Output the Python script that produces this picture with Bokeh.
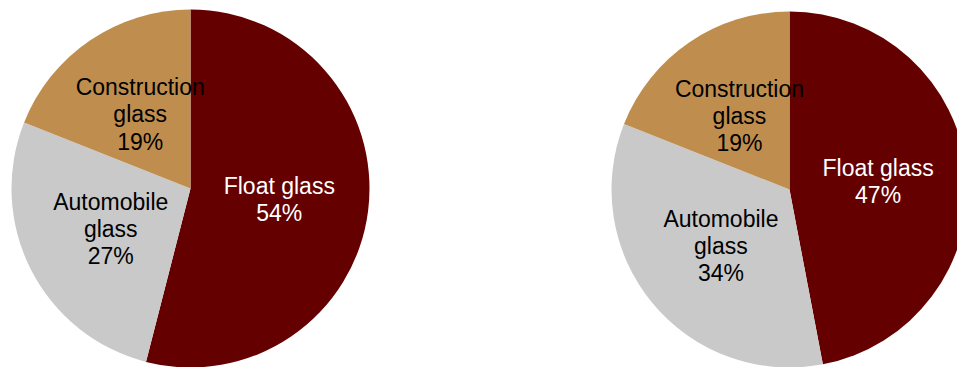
import math
from bokeh.plotting import figure
from bokeh.models import Range1d, ColumnDataSource
from bokeh.core.properties import value
from bokeh.embed import file_html
from bokeh.resources import INLINE

categories = ["Float glass", "Automobile\nglass", "Construction\nglass"]
shares_left = [54, 27, 19]
shares_right = [47, 34, 19]
colors = ["#640000", "#C9C9C9", "#BF8E4E"]
text_colors = ["#FFFFFF", "#000000", "#000000"]

W, H = 957, 367
p = figure(width=W, height=H, output_backend="svg", toolbar_location=None,
           x_range=Range1d(0, W), y_range=Range1d(0, H), min_border=0)
p.axis.visible = False
p.grid.visible = False
p.outline_line_color = None
p.background_fill_color = "white"
p.border_fill_color = "white"


def pie(cx, cy, r, shares):
    total = float(sum(shares))
    starts, ends, lx, ly, labels = [], [], [], [], []
    cum = 0.0
    for cat, s in zip(categories, shares):
        a0 = math.pi / 2 - 2 * math.pi * cum / total
        cum += s
        a1 = math.pi / 2 - 2 * math.pi * cum / total
        starts.append(a0)
        ends.append(a1)
        mid = (a0 + a1) / 2
        lx.append(cx + 0.5 * r * math.cos(mid))
        ly.append(cy + 0.5 * r * math.sin(mid))
        labels.append(f"{cat}\n{s}%")
    src = ColumnDataSource(dict(x=[cx] * len(shares), y=[cy] * len(shares),
                                start=starts, end=ends, color=colors,
                                lx=lx, ly=ly, label=labels, tc=text_colors))
    p.wedge(x="x", y="y", radius=r, start_angle="start", end_angle="end",
            direction="clock", fill_color="color", line_color=None, source=src)
    p.text(x="lx", y="ly", text="label", text_color="tc", source=src,
           text_align="center", text_baseline="middle",
           text_font=value("Liberation Sans"), text_font_size="23px",
           text_line_height=1.04)


pie(190, H - 188, 179, shares_left)
pie(789, H - 189, 178, shares_right)

open("out.html", "w").write(file_html(p, INLINE))
